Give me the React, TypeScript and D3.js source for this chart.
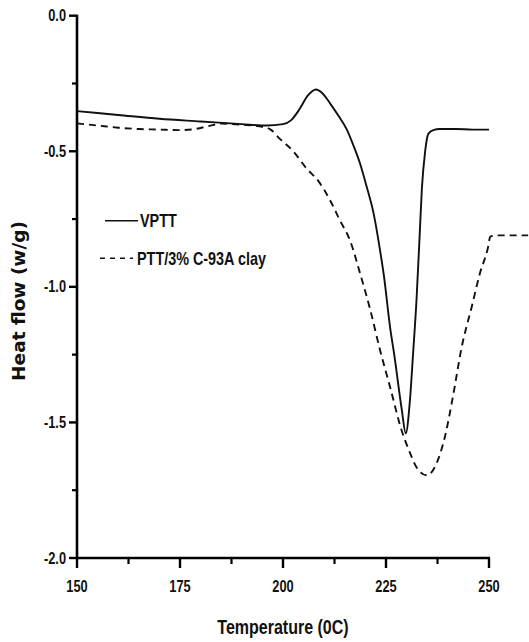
import React, { useRef, useEffect } from 'react';
import * as d3 from 'd3';

// DSC curves
const vpttTemp = [150, 160, 170, 180, 190, 196, 200, 202, 204, 206, 208, 209.5, 211.5, 213.5, 215.5, 217, 218.7, 220.3, 222, 223.5, 224.5, 226, 227, 228.8, 229.8, 230.8, 231.6, 232.4, 233.2, 233.7, 234.5, 235.3, 236.5, 238, 242, 246, 250];
const vpttFlow = [-0.352, -0.366, -0.38, -0.39, -0.4, -0.405, -0.4, -0.385, -0.345, -0.295, -0.272, -0.285, -0.325, -0.37, -0.42, -0.475, -0.545, -0.63, -0.73, -0.86, -0.96, -1.15, -1.25, -1.45, -1.54, -1.42, -1.24, -1.05, -0.8, -0.64, -0.5, -0.435, -0.422, -0.418, -0.418, -0.42, -0.42];

const clayTemp = [150, 155, 160, 165, 170, 175, 179, 182, 185, 190, 195, 197, 199.3, 202.5, 205.7, 208.6, 211.4, 213.8, 216.3, 218.7, 221.1, 223.5, 226, 228.8, 230.5, 232.4, 234.9, 237.3, 239.3, 241.3, 243.4, 245.8, 247.8, 249.8, 250.3, 252, 259.5];
const clayFlow = [-0.397, -0.405, -0.413, -0.418, -0.42, -0.422, -0.417, -0.407, -0.398, -0.402, -0.41, -0.42, -0.455, -0.5, -0.563, -0.61, -0.68, -0.754, -0.83, -0.95, -1.08, -1.23, -1.37, -1.53, -1.6, -1.665, -1.695, -1.65, -1.553, -1.4, -1.22, -1.074, -0.95, -0.852, -0.815, -0.81, -0.81];

const xTicks = [150, 175, 200, 225, 250];
const xMinor = [162.5, 187.5, 212.5, 237.5];
const yTicks = [0, -0.5, -1.0, -1.5, -2.0];
const yMinor = [-0.25, -0.75, -1.25, -1.75];
const seriesNames = ['VPTT', 'PTT/3% C-93A clay'];

const sans = "'Liberation Sans', Arial, sans-serif";

const App = () => {
  const svgRef = useRef<SVGSVGElement | null>(null);

  useEffect(() => {
    const svg = d3.select(svgRef.current);
    svg.selectAll('*').remove();

    const x = d3.scaleLinear().domain([150, 250]).range([77, 489]);
    const y = d3.scaleLinear().domain([0, -2]).range([15.7, 558]);

    const g = svg.append('g');

    // condensed bold text: no narrow font installed, so squeeze it
    const narrowText = (px: number, py: number, size: number, anchor: string, label: string) =>
      g.append('text')
        .attr('transform', `translate(${px},${py}) scale(0.8,1)`)
        .attr('text-anchor', anchor)
        .attr('font-family', sans)
        .attr('font-weight', 'bold')
        .attr('font-size', size)
        .attr('fill', '#111')
        .text(label);

    const seg = (x1: number, y1: number, x2: number, y2: number, w: number) =>
      g.append('line')
        .attr('x1', x1).attr('y1', y1)
        .attr('x2', x2).attr('y2', y2)
        .attr('stroke', '#000')
        .attr('stroke-width', w);

    // curves
    const line = d3.line<[number, number]>()
      .x(d => x(d[0]))
      .y(d => y(d[1]))
      .curve(d3.curveMonotoneX);

    const vptt = vpttTemp.map((t, i) => [t, vpttFlow[i]] as [number, number]);
    const clay = clayTemp.map((t, i) => [t, clayFlow[i]] as [number, number]);

    g.append('path')
      .attr('d', line(clay))
      .attr('fill', 'none')
      .attr('stroke', '#111')
      .attr('stroke-width', 1.9)
      .attr('stroke-dasharray', '7,5');

    g.append('path')
      .attr('d', line(vptt))
      .attr('fill', 'none')
      .attr('stroke', '#111')
      .attr('stroke-width', 1.9);

    // axes
    seg(x(150), y(-2), x(250) + 1, y(-2), 2.6);
    seg(x(150), y(0) - 1, x(150), y(-2) + 1.3, 2.6);

    xTicks.forEach(t => seg(x(t), y(-2), x(t), y(-2) + 10, 2.4));
    xMinor.forEach(t => seg(x(t), y(-2), x(t), y(-2) + 6, 2.2));
    yTicks.forEach(t => seg(x(150), y(t), x(150) - 8, y(t), 2.4));
    yMinor.forEach(t => seg(x(150), y(t), x(150) - 5, y(t), 2.2));

    xTicks.forEach(t => narrowText(x(t), 592, 16, 'middle', String(t)));
    yTicks.forEach(t => narrowText(66, y(t) + 5.5, 16, 'end', t.toFixed(1)));

    narrowText(283, 634, 20, 'middle', 'Temperature (0C)');

    g.append('text')
      .attr('transform', 'translate(25,301) rotate(-90)')
      .attr('text-anchor', 'middle')
      .attr('font-family', "'DejaVu Sans', sans-serif")
      .attr('font-weight', 'bold')
      .attr('font-size', 18.5)
      .attr('fill', '#111')
      .text('Heat flow (w/g)');

    // legend
    const rows = [
      { name: seriesNames[0], y: 220.7, dash: null, x1: 105, x2: 138, tx: 140 },
      { name: seriesNames[1], y: 258.3, dash: '5,5', x1: 100, x2: 133, tx: 137 },
    ];
    rows.forEach(r => {
      g.append('line')
        .attr('x1', r.x1).attr('x2', r.x2)
        .attr('y1', r.y).attr('y2', r.y)
        .attr('stroke', '#111')
        .attr('stroke-width', 1.6)
        .attr('stroke-dasharray', r.dash);
      narrowText(r.tx, r.y + 6.5, 18, 'start', r.name);
    });
  }, []);

  return (
    <svg
      ref={svgRef}
      width={529}
      height={642}
      style={{ position: 'absolute', left: 0, top: 0, background: '#fff' }}
    />
  );
};

export default App;
